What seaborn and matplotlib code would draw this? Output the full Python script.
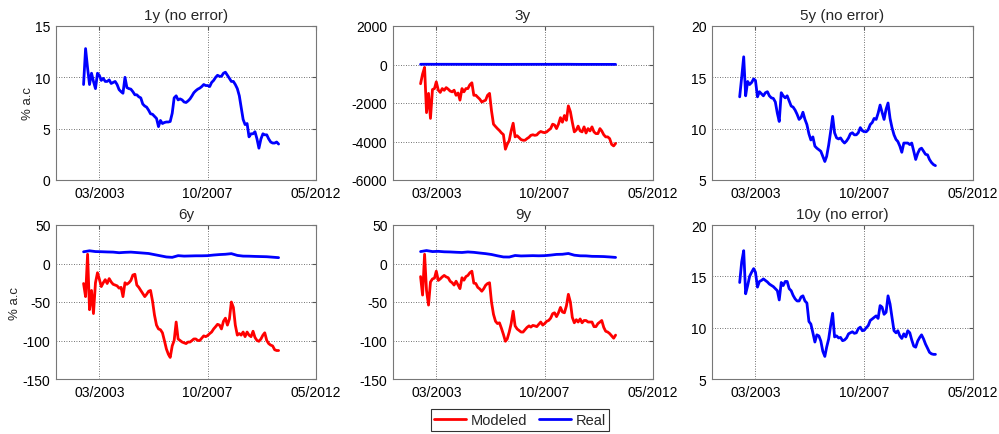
import datetime as dt

import matplotlib
matplotlib.use("Agg")
import matplotlib.pyplot as plt
from matplotlib.lines import Line2D
import pandas as pd
import seaborn as sns

# ---------------------------------------------------------------------------
# Data: monthly yields (% a.c) from Jul 2002 to Oct 2010
# ---------------------------------------------------------------------------
monthly_dates = pd.date_range("2002-07-01", periods=100, freq="MS")
quarterly_dates = pd.date_range("2002-07-01", periods=34, freq="3MS")

real_1y = [
    9.3, 12.8, 10.9, 9.3, 10.4, 9.6, 8.9, 10.4, 10.2, 9.7,
    9.9, 9.6, 9.6, 9.75, 9.4, 9.5, 9.6, 9.3, 8.8, 8.6,
    8.45, 10.0, 9.0, 8.9, 8.85, 8.6, 8.3, 8.3, 8.1, 8.0,
    7.4, 7.2, 7.1, 6.8, 6.45, 6.4, 6.2, 6.0, 5.2, 5.8,
    5.5, 5.6, 5.65, 5.65, 5.7, 6.5, 8.0, 8.2, 7.8, 7.9,
    7.8, 7.6, 7.55, 7.7, 7.9, 8.2, 8.5, 8.7, 8.85, 8.95,
    9.1, 9.3, 9.2, 9.2, 9.1, 9.5, 9.7, 10.0, 10.2, 10.1,
    10.1, 10.4, 10.5, 10.2, 9.9, 9.6, 9.6, 9.3, 8.9, 8.2,
    7.1, 5.9, 5.4, 5.5, 4.2, 4.5, 4.5, 4.7, 4.0, 3.1,
    4.0, 4.5, 4.4, 4.4, 4.0, 3.7, 3.6, 3.6, 3.7, 3.5,
]

real_5y = [
    13.1, 15.0, 17.0, 13.2, 14.6, 14.3, 14.5, 14.85, 14.7, 13.1,
    13.6, 13.4, 13.2, 13.5, 13.6, 13.2, 13.0, 12.95, 12.6, 11.5,
    10.7, 13.5, 13.2, 13.0, 13.2, 12.7, 12.2, 12.1, 11.8, 11.4,
    10.9, 11.1, 11.6, 10.9, 10.4, 9.5, 8.9, 9.2, 8.3, 8.1,
    7.95, 7.8, 7.3, 6.8, 7.3, 8.4, 9.7, 11.2, 9.6, 9.1,
    9.0, 9.1, 8.8, 8.6, 8.8, 9.1, 9.5, 9.6, 9.4, 9.4,
    9.6, 10.1, 9.8, 9.7, 9.7, 9.9, 10.4, 10.6, 11.0, 10.9,
    11.5, 12.3, 11.6, 10.9, 11.9, 12.5, 11.0, 10.1, 9.4, 8.95,
    8.75, 8.3, 7.7, 8.6, 8.6, 8.6, 8.45, 8.6, 7.8, 7.0,
    7.6, 8.0, 8.1, 7.8, 7.5, 7.45, 7.0, 6.7, 6.5, 6.4,
]

real_10y = [
    14.4, 16.4, 17.5, 13.3, 14.1, 15.0, 15.4, 15.75, 15.4, 13.95,
    14.5, 14.6, 14.75, 14.6, 14.45, 14.25, 14.12, 14.0, 13.8, 13.6,
    12.7, 14.4, 14.1, 14.5, 14.5, 13.8, 13.6, 13.14, 12.8, 12.6,
    12.6, 13.0, 13.1, 12.6, 12.4, 10.6, 10.35, 9.5, 8.6, 9.3,
    9.2, 8.7, 7.7, 7.2, 8.1, 8.9, 10.2, 11.4, 9.1, 9.2,
    9.0, 9.05, 8.73, 8.8, 9.0, 9.4, 9.5, 9.6, 9.45, 9.5,
    9.9, 10.05, 9.7, 9.75, 10.0, 10.2, 10.7, 10.85, 11.0, 11.15,
    10.9, 12.15, 12.0, 11.3, 11.5, 13.1, 12.3, 11.0, 9.7, 9.5,
    9.7, 9.2, 8.95, 9.4, 9.1, 9.7, 9.5, 8.8, 8.2, 8.1,
    8.7, 9.05, 9.3, 8.9, 8.4, 8.0, 7.6, 7.45, 7.4, 7.4,
]

modeled_3y = [
    -1000, -500, -150, -2500, -1500, -2800, -1300, -1250, -900, -1330,
    -1450, -1250, -1340, -1200, -1280, -1380, -1420, -1335, -1600, -1480,
    -1850, -1250, -1420, -1250, -1250, -1050, -950, -1600, -1595, -1700,
    -1800, -1950, -1900, -1855, -1600, -1500, -2400, -3100, -3220, -3330,
    -3430, -3550, -3640, -4400, -4150, -3950, -3450, -3050, -3760, -3700,
    -3800, -3900, -3935, -3935, -3850, -3780, -3680, -3650, -3680, -3660,
    -3550, -3480, -3520, -3540, -3500, -3410, -3330, -3100, -3140, -3330,
    -3100, -2760, -3000, -2650, -2900, -2150, -2450, -3000, -3500, -3400,
    -3200, -3450, -3500, -3240, -3560, -3330, -3450, -3240, -3500, -3590,
    -3590, -3330, -3450, -3650, -3760, -3760, -3850, -4150, -4230, -4100,
]

modeled_6y = [
    -26, -43, 12, -60, -35, -65, -25, -12, -20, -30,
    -25, -21, -26, -19.6, -24, -27, -28, -29, -32, -31,
    -43, -25, -27, -25, -22, -15, -14, -28, -31, -35,
    -39, -43, -40, -36, -35, -49, -67, -80, -85, -86,
    -90, -100, -111, -118, -122, -107, -100, -76, -98, -100,
    -102, -103, -104, -102, -102, -100, -98, -98, -100, -100,
    -97, -94, -95, -93.5, -91, -89, -85, -82, -79, -80,
    -85, -75, -71, -80, -72, -50, -57, -80, -93, -91,
    -93, -89, -95, -89, -93, -95, -88, -96, -100, -101,
    -98, -93, -90, -100, -104, -106, -107, -112, -113, -113,
]

modeled_9y = [
    -17, -41, 12, -35, -54, -24, -20, -19, -10, -22,
    -20, -17.4, -15.5, -17.4, -18.5, -23, -25, -28, -23, -28,
    -32.6, -18.5, -21.7, -17, -15.5, -12, -10, -25.5, -26, -31,
    -33, -36, -33, -28.3, -26, -25, -50, -66, -75, -78,
    -77, -84, -92, -101, -98, -89, -78, -62, -81, -85,
    -87, -89, -89, -86, -83, -81, -82.6, -80.4, -81, -82,
    -79, -76, -80, -78, -75, -74, -71, -65.2, -64, -69,
    -64, -57, -63, -64, -55, -40, -50, -70, -77, -73,
    -76, -72, -77, -74, -74, -76, -76, -76, -82, -82,
    -78, -76, -74, -83, -88, -89, -91, -94, -97, -93,
]

# quarterly observed yields for the maturities that are also modeled
real_3y = [
    11.0, 12.5, 11.5, 11.3, 11.0, 11.0, 10.6, 10.0, 10.5, 10.2,
    9.5, 9.0, 8.0, 7.2, 6.5, 6.2, 8.6, 8.5, 8.7, 9.0,
    9.3, 9.5, 10.0, 10.6, 11.0, 11.3, 8.5, 6.6, 6.2, 6.5,
    6.0, 5.8, 5.4, 5.0,
]
real_6y = [
    15.2, 16.5, 15.5, 15.3, 15.0, 14.8, 14.0, 14.5, 14.8, 14.2,
    13.6, 13.0, 11.5, 10.0, 8.5, 8.0, 10.2, 9.6, 9.8, 10.0,
    10.0, 10.2, 11.0, 11.6, 12.0, 12.8, 10.5, 9.6, 9.5, 9.2,
    9.0, 8.8, 8.2, 7.6,
]
real_9y = [
    15.5, 16.8, 15.5, 15.8, 15.2, 15.0, 14.6, 14.3, 15.0, 14.5,
    13.6, 12.8, 11.7, 10.0, 8.5, 8.4, 10.4, 9.8, 10.0, 10.2,
    10.0, 10.2, 10.9, 11.8, 12.0, 13.0, 10.8, 10.0, 9.9, 9.3,
    9.2, 9.0, 8.5, 7.9,
]

panel_titles = ["1y (no error)", "3y", "5y (no error)", "6y", "9y", "10y (no error)"]
y_limits = [(0, 15), (-6000, 2000), (5, 20), (-150, 50), (-150, 50), (5, 20)]
y_ticks = [
    [0, 5, 10, 15],
    [-6000, -4000, -2000, 0, 2000],
    [5, 10, 15, 20],
    [-150, -100, -50, 0, 50],
    [-150, -100, -50, 0, 50],
    [5, 10, 15, 20],
]
x_tick_dates = [dt.datetime(2003, 3, 1), dt.datetime(2007, 10, 1), dt.datetime(2012, 5, 1)]
x_tick_labels = ["03/2003", "10/2007", "05/2012"]
legend_labels = ["Modeled", "Real"]

# ---------------------------------------------------------------------------
# Style
# ---------------------------------------------------------------------------
sns.set_style("white")
plt.rcParams["font.family"] = ["Liberation Sans", "DejaVu Sans"]
plt.rcParams["axes.unicode_minus"] = False

RED = "#ff0000"
BLUE = "#0000ff"
LW = 2.0

fig = plt.figure(figsize=(9.99, 4.35), dpi=100)

W, H = 999, 435
col_left = [56, 393, 712]
col_width = [260, 260, 261]
row_top = [27, 226]
row_height = 154

axes = []
for r in range(2):
    for c in range(3):
        left = col_left[c] / W
        bottom = 1 - (row_top[r] + row_height) / H
        ax = fig.add_axes([left, bottom, col_width[c] / W, row_height / H])
        axes.append(ax)

# series to draw in each panel: (dates, values, colour)
panel_series = [
    [(monthly_dates, real_1y, BLUE)],
    [(monthly_dates, modeled_3y, RED), (quarterly_dates, real_3y, BLUE)],
    [(monthly_dates, real_5y, BLUE)],
    [(monthly_dates, modeled_6y, RED), (quarterly_dates, real_6y, BLUE)],
    [(monthly_dates, modeled_9y, RED), (quarterly_dates, real_9y, BLUE)],
    [(monthly_dates, real_10y, BLUE)],
]

for k, ax in enumerate(axes):
    for dates, vals, color in panel_series[k]:
        df = pd.DataFrame({"date": dates, "value": vals})
        sns.lineplot(data=df, x="date", y="value", ax=ax, color=color,
                     linewidth=LW, estimator=None)

    ax.set_xlim(dt.datetime(2001, 5, 1), dt.datetime(2012, 5, 1))
    ax.set_xticks(x_tick_dates)
    ax.set_xticklabels(x_tick_labels)
    ax.set_ylim(*y_limits[k])
    ax.set_yticks(y_ticks[k])
    ax.set_yticklabels([str(v) for v in y_ticks[k]])

    ax.set_title(panel_titles[k], fontsize=11, pad=5)
    ax.set_xlabel("")
    ax.set_ylabel("% a.c" if k in (0, 3) else "", fontsize=9.5, labelpad=1)

    ax.grid(True, linestyle=(0, (1, 2)), color="#444444", linewidth=0.6)
    ax.tick_params(axis="both", which="both", direction="in", length=3,
                   labelsize=10, colors="#555555", labelcolor="black",
                   top=True, right=True, pad=4)
    for s in ax.spines.values():
        s.set_color("#777777")
        s.set_linewidth(0.8)
        s.set_visible(True)

handles = [Line2D([], [], color=RED, linewidth=LW),
           Line2D([], [], color=BLUE, linewidth=LW)]
leg = fig.legend(handles, legend_labels, loc="center", ncol=2,
                 bbox_to_anchor=(520 / W, 1 - 421 / H), fontsize=10.5,
                 frameon=True, fancybox=False, handlelength=2.2,
                 handletextpad=0.3, columnspacing=0.8, borderpad=0.25,
                 edgecolor="black")
leg.get_frame().set_linewidth(0.8)

fig.savefig("out.png", dpi=100, facecolor="white")
